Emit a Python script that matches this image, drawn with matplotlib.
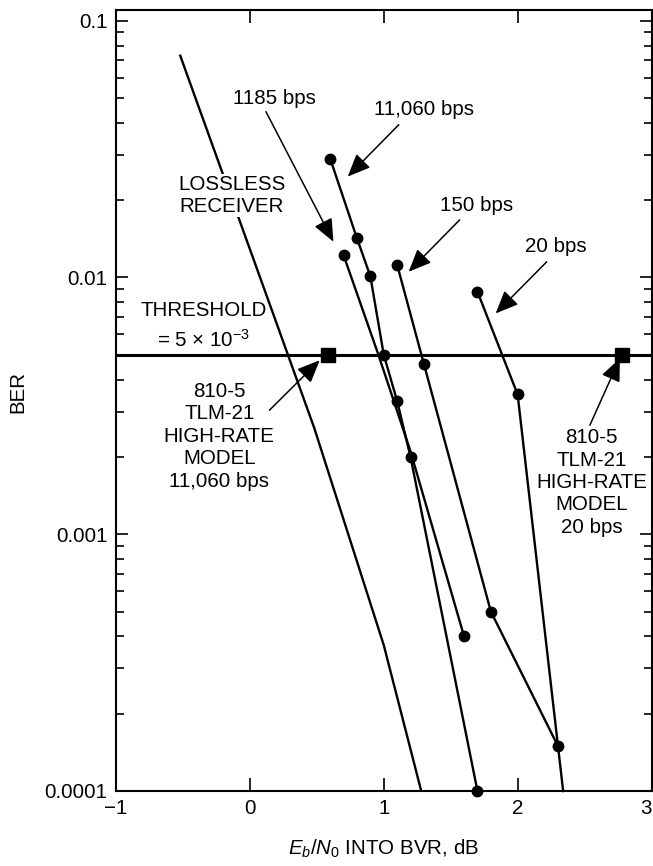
import numpy as np
import matplotlib.pyplot as plt
from matplotlib.ticker import FixedLocator, FixedFormatter, LogLocator, NullFormatter, NullLocator

plt.rcParams['font.family'] = ['Liberation Sans', 'DejaVu Sans']
plt.rcParams['font.size'] = 14.8
plt.rcParams['mathtext.fontset'] = 'custom'
plt.rcParams['mathtext.rm'] = 'Liberation Sans'
plt.rcParams['mathtext.it'] = 'Liberation Sans:italic'

# curves: Eb/N0 (dB) vs BER
lossless_x = [-0.52, 0.48, 1.0, 1.28]
lossless_ber = [0.073, 0.0026, 0.00037, 0.0001]

bps11060_x = [0.6, 0.8, 0.9, 1.0, 1.1, 1.2, 1.7]
bps11060_ber = [0.029, 0.0142, 0.0101, 0.005, 0.0033, 0.002, 0.0001]

bps1185_x = [0.7, 0.96, 1.2, 1.6]
bps1185_ber = [0.0122, 0.005, 0.0021, 0.0004]
bps1185_dots = [0, 3]

bps150_x = [1.1, 1.3, 1.8, 2.3]
bps150_ber = [0.0112, 0.0046, 0.0005, 0.00015]

bps20_x = [1.7, 2.0, 2.34]
bps20_ber = [0.0088, 0.0035, 0.0001]
bps20_dots = [0, 1]

threshold = 5e-3
model_x = [0.58, 2.78]
model_ber = [threshold, threshold]

xtick_vals = [-1, 0, 1, 2, 3]
ytick_vals = [0.1, 0.01, 0.001, 0.0001]
ytick_labels = ['0.1', '0.01', '0.001', '0.0001']

fig = plt.figure(figsize=(6.53, 8.66), dpi=100)
ax = fig.add_axes([116 / 653, 1 - 791 / 866, 535.5 / 653, 781 / 866])
ax.set_yscale('log')
ax.set_xlim(-1, 3)
ax.set_ylim(1e-4, 0.11)

line_kw = dict(color='black', lw=1.7, ms=7.5, clip_on=False)
ax.plot(lossless_x, lossless_ber, color='black', lw=1.7)
ax.plot(bps11060_x, bps11060_ber, marker='o', **line_kw)
ax.plot(bps1185_x, bps1185_ber, marker='o', markevery=bps1185_dots, **line_kw)
ax.plot(bps150_x, bps150_ber, marker='o', **line_kw)
ax.plot(bps20_x, bps20_ber, marker='o', markevery=bps20_dots, **line_kw)

ax.axhline(threshold, color='black', lw=2.2)
ax.plot(model_x, model_ber, 's', color='black', ms=9.5, zorder=5)

# labels and arrows
arrow_kw = dict(arrowstyle='-|>,head_length=0.7,head_width=0.3', color='black',
                lw=1.1, mutation_scale=20, shrinkA=0, shrinkB=0)

def arrow(start, tip):
    ax.annotate('', xy=tip, xytext=start, arrowprops=arrow_kw)

ax.text(0.187, 0.0499, '1185 bps', ha='center', va='center')
arrow((0.12, 0.0442), (0.624, 0.01377))

ax.text(1.30, 0.0452, '11,060 bps', ha='center', va='center')
arrow((1.112, 0.0393), (0.731, 0.0247))

ax.text(1.697, 0.019, '150 bps', ha='center', va='center')
arrow((1.567, 0.01675), (1.186, 0.01052))

ax.text(2.284, 0.0132, '20 bps', ha='center', va='center')
arrow((2.217, 0.0115), (1.836, 0.00724))

ax.text(-0.136, 0.0208, 'LOSSLESS\nRECEIVER', ha='center', va='center',
        linespacing=1.17, zorder=6,
        bbox=dict(facecolor='white', edgecolor='none', pad=1))

ax.text(-0.348, 0.0074, 'THRESHOLD', ha='center', va='center')
ax.text(-0.348, 0.0057, r'= 5 × 10$^{−3}$', ha='center', va='center')

ax.text(-0.229, 0.00241, '810-5\nTLM-21\nHIGH-RATE\nMODEL\n11,060 bps',
        ha='center', va='center', linespacing=1.23)
arrow((0.146, 0.00304), (0.522, 0.00476))

ax.text(2.553, 0.00159, '810-5\nTLM-21\nHIGH-RATE\nMODEL\n20 bps',
        ha='center', va='center', linespacing=1.23)
arrow((2.54, 0.00266), (2.764, 0.00484))

# axes styling
ax.set_xticks(xtick_vals)
ax.xaxis.set_minor_locator(NullLocator())
ax.yaxis.set_major_locator(FixedLocator(ytick_vals))
ax.yaxis.set_major_formatter(FixedFormatter(ytick_labels))
ax.yaxis.set_minor_locator(LogLocator(subs=np.arange(2, 10)))
ax.yaxis.set_minor_formatter(NullFormatter())
ax.tick_params(which='both', direction='in', top=True, right=True, width=1.2)
ax.tick_params(axis='x', which='major', length=9.5, pad=6)
ax.tick_params(axis='y', which='major', length=8.5, pad=6)
ax.tick_params(axis='y', which='minor', length=6)
for s in ax.spines.values():
    s.set_linewidth(1.5)
# the last x label sits at the figure edge
ax.get_xticklabels()[-1].set_horizontalalignment('right')

ax.set_xlabel(r'$E_b$/$N_0$ INTO BVR, dB')
ax.set_ylabel('BER')
ax.xaxis.set_label_coords(0.5, -0.060)
ax.yaxis.set_label_coords(-0.166, 0.511)

fig.savefig('out.png', dpi=100)
